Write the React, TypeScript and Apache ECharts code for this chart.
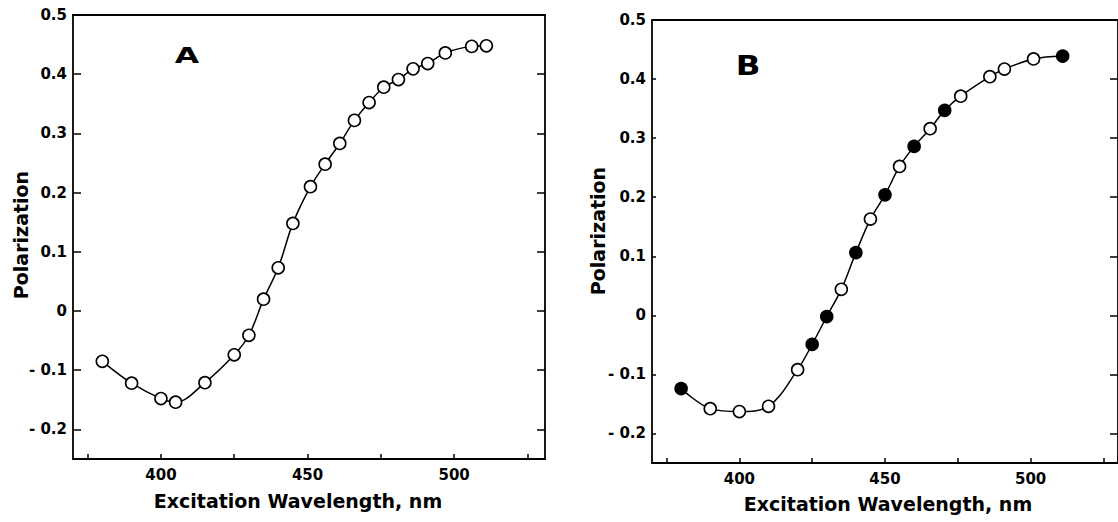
import React, { useEffect, useRef } from "react";
import * as echarts from "echarts";

// Panel A
const wavelengthA = [380, 390, 400, 405, 415, 425, 430, 435, 440, 445, 451, 456, 461, 466, 471, 476, 481, 486, 491, 497, 506, 511];
const polarizationA = [-0.085, -0.122, -0.148, -0.154, -0.121, -0.074, -0.041, 0.02, 0.073, 0.148, 0.21, 0.248, 0.283, 0.322, 0.352, 0.378, 0.391, 0.409, 0.418, 0.436, 0.447, 0.448];

// Panel B
const wavelengthB = [380, 390, 400, 410, 420, 425, 430, 435, 440, 445, 450, 455, 460, 465.5, 470.5, 476, 486, 491, 501, 511];
const polarizationB = [-0.124, -0.158, -0.163, -0.154, -0.092, -0.049, -0.002, 0.044, 0.106, 0.163, 0.204, 0.252, 0.286, 0.316, 0.347, 0.371, 0.404, 0.417, 0.434, 0.439];
const filledB = [1, 0, 0, 0, 0, 1, 1, 0, 1, 0, 1, 0, 1, 0, 1, 0, 0, 0, 0, 1];

const xTicks = [375, 400, 425, 450, 475, 500, 525];
const xLabels = [400, 450, 500];
const yTicks = [-0.2, -0.1, 0, 0.1, 0.2, 0.3, 0.4, 0.5];

const FONT = "DejaVu Sans";
const INK = "#000";

const fmtY = (v: number) => {
  if (Math.abs(v) < 1e-9) return "0";
  if (v < 0) return "- " + Math.abs(v).toFixed(1);
  return v.toFixed(1);
};

function axesFor(grid: number, xmin: number, xmax: number, leftTickLen: number) {
  const line = { show: true, lineStyle: { color: INK, width: 1.8 } };
  const xAxes = [
    {
      gridIndex: grid, type: "value", min: xmin, max: xmax, position: "bottom",
      axisLine: { ...line, onZero: false },
      axisTick: { show: true, inside: true, length: 5, customValues: xTicks, lineStyle: { color: INK, width: 1.5 } },
      axisLabel: { show: true, customValues: xLabels, color: INK, fontFamily: FONT, fontWeight: "bold", fontSize: 15, margin: 8 },
      splitLine: { show: false },
    },
    {
      gridIndex: grid, type: "value", min: xmin, max: xmax, position: "top",
      axisLine: { ...line, onZero: false }, axisTick: { show: false }, axisLabel: { show: false }, splitLine: { show: false },
    },
  ];
  const yAxes = [
    {
      gridIndex: grid, type: "value", min: -0.25, max: 0.5, position: "left",
      axisLine: { ...line, onZero: false },
      axisTick: { show: true, inside: true, length: leftTickLen, customValues: yTicks, lineStyle: { color: INK, width: 1.5 } },
      axisLabel: { show: true, customValues: yTicks, formatter: fmtY, color: INK, fontFamily: FONT, fontWeight: "bold", fontSize: 15, margin: 6 },
      splitLine: { show: false },
    },
    {
      gridIndex: grid, type: "value", min: -0.25, max: 0.5, position: "right",
      axisLine: { ...line, onZero: false },
      axisTick: { show: true, inside: true, length: 8, customValues: yTicks, lineStyle: { color: INK, width: 1.5 } },
      axisLabel: { show: false }, splitLine: { show: false },
    },
  ];
  return { xAxes, yAxes };
}

export default function App() {
  const ref = useRef<HTMLDivElement>(null);
  useEffect(() => {
    if (!ref.current) return;
    const chart = echarts.init(ref.current, null, { renderer: "svg" });
    const a = axesFor(0, 370, 531, 8);
    const b = axesFor(1, 370, 530, 4);

    const dataA = wavelengthA.map((x, i) => [x, polarizationA[i]]);
    const dataB = wavelengthB.map((x, i) => ({
      value: [x, polarizationB[i]],
      itemStyle: { color: filledB[i] ? INK : "#fff", borderColor: INK, borderWidth: 1.6 },
    }));

    const nameStyle = { fill: INK, fontFamily: FONT, fontWeight: "bold", fontSize: 19 };

    chart.setOption({
      animation: false,
      backgroundColor: "#fff",
      grid: [
        { left: 73, top: 15, width: 472, height: 444 },
        { left: 652, top: 20, width: 471, height: 443 },
      ],
      xAxis: [...a.xAxes, ...b.xAxes],
      yAxis: [...a.yAxes, ...b.yAxes],
      series: [
        {
          type: "line", xAxisIndex: 0, yAxisIndex: 0, data: dataA, smooth: 0.35,
          lineStyle: { color: INK, width: 1.5 },
          symbol: "circle", symbolSize: 12,
          itemStyle: { color: "#fff", borderColor: INK, borderWidth: 1.6 },
        },
        {
          type: "line", xAxisIndex: 2, yAxisIndex: 2, data: dataB, smooth: 0.35,
          lineStyle: { color: INK, width: 1.5 },
          symbol: "circle", symbolSize: 12,
        },
      ],
      graphic: [
        { type: "text", x: 187, y: 56, scaleX: 1.5, style: { text: "A", fill: INK, fontFamily: FONT, fontWeight: 900, fontSize: 21, align: "center", verticalAlign: "middle" } },
        { type: "text", x: 748, y: 65, scaleX: 1.2, style: { text: "B", fill: INK, fontFamily: FONT, fontWeight: 900, fontSize: 27, align: "center", verticalAlign: "middle" } },
        { type: "text", x: 21, y: 235, rotation: Math.PI / 2, style: { ...nameStyle, text: "Polarization", align: "center", verticalAlign: "middle" } },
        { type: "text", x: 598, y: 231, rotation: Math.PI / 2, style: { ...nameStyle, text: "Polarization", align: "center", verticalAlign: "middle" } },
        { type: "text", x: 298, y: 501, style: { ...nameStyle, text: "Excitation Wavelength, nm", align: "center", verticalAlign: "middle" } },
        { type: "text", x: 888, y: 504, style: { ...nameStyle, text: "Excitation Wavelength, nm", align: "center", verticalAlign: "middle" } },
      ],
    });
    return () => chart.dispose();
  }, []);
  return <div ref={ref} style={{ position: "fixed", left: 0, top: 0, width: 1118, height: 522 }} />;
}
